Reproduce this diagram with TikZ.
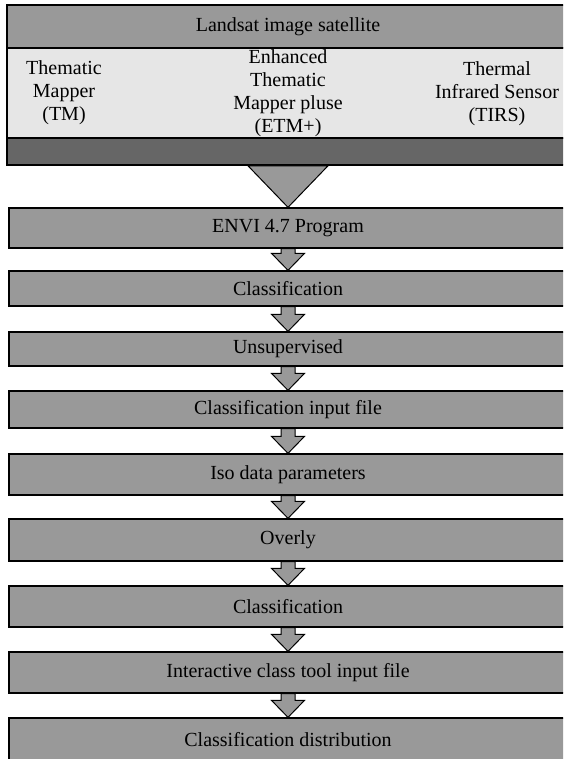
\documentclass[tikz,border=0pt]{standalone}
\usepackage{fontspec}
\setmainfont{Liberation Serif}
\usetikzlibrary{calc}
\definecolor{boxgray}{HTML}{999999}
\definecolor{sensorfill}{HTML}{E6E6E6}
\definecolor{barfill}{HTML}{666666}

\begin{document}
\begin{tikzpicture}[x=1pt,y=-1pt,
    every node/.style={font=\fontsize{20}{23}\selectfont},
    stepbox/.style={draw, line width=1.3pt, fill=boxgray, minimum width=558pt, inner sep=0pt},
    headbox/.style={stepbox, line width=1.6pt, minimum width=562pt},
    blockarrow/.style={draw, line width=1pt, fill=boxgray, line join=miter}]
    \useasboundingbox (0,0) rectangle (563,759);
    \clip (0,0) rectangle (563,759);
    \coordinate (axis) at (288,0);

    % satellite header
    \node[headbox, minimum height=43pt] (landsat) at (288,26.5) {Landsat image satellite};
    \node[headbox, fill=sensorfill, minimum height=90pt] (sensors) at (288,93) {};
    \node[headbox, fill=barfill, minimum height=27pt] (bar) at (288,151.5) {};
    \node[align=center] (tm) at (64,93) {Thematic\\Mapper\\(TM)};
    \node[align=center] (etm) at (288,93.5) {Enhanced\\Thematic\\Mapper pluse\\(ETM+)};
    \node[align=center] (tirs) at (497,94) {Thermal\\Infrared Sensor\\(TIRS)};

    % processing steps
    \foreach \n/\y/\h/\t in {envi/228/40/ENVI 4.7 Program, cls/288.5/35/Classification,
        unsup/349/34/Unsupervised, input/409.5/37/Classification input file,
        iso/474.5/41/Iso data parameters, overly/540/42/Overly, clsb/606.5/41/Classification,
        ict/672.5/41/Interactive class tool input file, dist/740/44/Classification distribution}
        \node[stepbox, minimum height=\h*1pt] (\n) at (288,\y) {\t};

    \draw[blockarrow] ($(bar.south -| axis)+(-40,0)$) -- (envi.north -| axis) -- ($(bar.south -| axis)+(40,0)$) -- cycle;
    \foreach \a/\b in {envi/cls, cls/unsup, unsup/input, input/iso, iso/overly, overly/clsb, clsb/ict, ict/dist}
        \draw[blockarrow] ($(\a.south -| axis)+(-7,0)$) -- ($(\b.north -| axis)+(-7,-17)$)
            -- ($(\b.north -| axis)+(-16.5,-17)$) -- (\b.north -| axis) -- ($(\b.north -| axis)+(16.5,-17)$)
            -- ($(\b.north -| axis)+(7,-17)$) -- ($(\a.south -| axis)+(7,0)$) -- cycle;
\end{tikzpicture}
\end{document}
